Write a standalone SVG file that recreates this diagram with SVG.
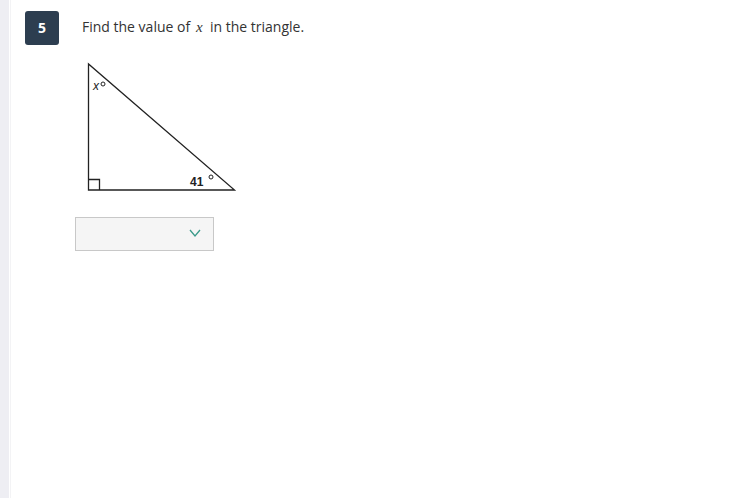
<svg xmlns="http://www.w3.org/2000/svg" width="746" height="498" viewBox="0 0 746 498">
<style>
.t{font-family:"Open Sans","Liberation Sans",sans-serif;font-size:14px;fill:#333}
.lbl{font-family:"Liberation Sans",Arial,sans-serif;font-size:12px;fill:#222}
.edge{stroke:#222;stroke-width:1.3;fill:none}
</style>
<rect x="0" y="0" width="746" height="498" fill="#fff"/>
<rect x="0" y="0" width="9" height="498" fill="#eeeef3"/>
<line x1="10.5" y1="0" x2="10.5" y2="498" stroke="#f3f3f5" stroke-width="1"/>
<g id="badge">
<rect x="25" y="11" width="34" height="34" rx="3" fill="#2d3e50"/>
<text x="42" y="33" text-anchor="middle" font-family="'Open Sans','Liberation Sans',sans-serif" font-size="14" font-weight="bold" fill="#fff">5</text>
</g>
<g id="question">
<text x="82" y="32" class="t">Find the value of</text>
<text x="196" y="32" font-family="'Liberation Serif',serif" font-style="italic" font-size="15" fill="#333">x</text>
<text x="210" y="32" class="t">in the triangle.</text>
</g>
<g id="triangle">
<polygon class="edge" points="88.5,64 88.5,190 234.5,190"/>
<polyline class="edge" points="88.5,179.5 99.5,179.5 99.5,190" stroke-width="1"/>
<text x="93" y="90" class="lbl" font-style="italic">x</text>
<circle cx="103" cy="84" r="2" fill="none" stroke="#222" stroke-width="1"/>
<text x="190" y="185.5" class="lbl" font-weight="bold" font-size="13">41</text>
<circle cx="211" cy="177" r="2" fill="none" stroke="#222" stroke-width="1"/>
</g>
<g id="dropdown">
<rect x="75.5" y="217.5" width="138" height="33" fill="#f5f5f5" stroke="#c8c8c8"/>
<polyline points="190,230 195,236 200,230" fill="none" stroke="#3a9a8a" stroke-width="1.3"/>
</g>
</svg>
